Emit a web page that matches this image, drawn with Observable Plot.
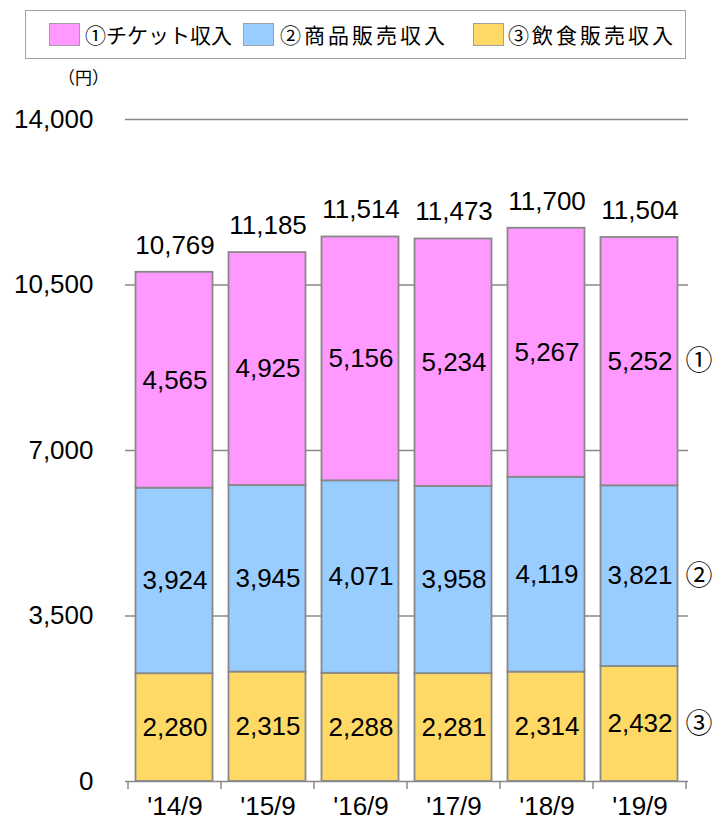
<!DOCTYPE html>
<html>
<head>
<meta charset="utf-8">
<script src="https://cdn.jsdelivr.net/npm/d3@7"></script>
<script src="https://cdn.jsdelivr.net/npm/@observablehq/plot@0.6"></script>
<style>
  body { margin: 0; background: #fff; width: 716px; height: 825px; position: relative; overflow: hidden;
         font-family: "Liberation Sans", Arial, "Noto Sans CJK JP", sans-serif; }
  #legend { position: absolute; left: 25px; top: 10px; width: 659px; height: 47px; border: 1.5px solid #a0a0a0; }
  .sw { position: absolute; top: 12px; width: 31px; height: 23px; border: 1.5px solid #a0a0a0; box-sizing: border-box; }
  .lt { position: absolute; top: 0; line-height: 47px; font-family: "Noto Sans CJK JP", sans-serif; font-size: 21px; color: #000; white-space: nowrap; }
  #unit { position: absolute; left: 58px; top: 64px; font-family: "Noto Sans CJK JP", sans-serif; font-size: 17px; line-height: 26px; color: #000; }
  #chart { position: absolute; left: 0; top: 70px; }
</style>
</head>
<body>
<div id="legend"></div>
<div id="unit">（円）</div>
<div id="chart"></div>
<script>
const categories = ["'14/9", "'15/9", "'16/9", "'17/9", "'18/9", "'19/9"];
const seriesNames = ["①チケット収入", "②商品販売収入", "③飲食販売収入"];
const seriesColors = ["#FF99FF", "#99CCFF", "#FFD966"];
const circled = ["①", "②", "③"];
const ticket = [4565, 4925, 5156, 5234, 5267, 5252];
const goods = [3924, 3945, 4071, 3958, 4119, 3821];
const food = [2280, 2315, 2288, 2281, 2314, 2432];
const totals = [10769, 11185, 11514, 11473, 11700, 11504];
const yTicks = [0, 3500, 7000, 10500, 14000];

const fmt = d3.format(",");

// Legend (swatch and label offsets inside the box)
const legendSwatchX = [23, 217, 447];
const legendTextX = [59, 254, 482];
const legendSpacing = [0, 3, 3];
const legend = document.getElementById("legend");
seriesNames.forEach((name, i) => {
  const sw = document.createElement("div");
  sw.className = "sw";
  sw.style.left = legendSwatchX[i] + "px";
  sw.style.background = seriesColors[i];
  legend.appendChild(sw);
  const t = document.createElement("span");
  t.className = "lt";
  t.style.left = legendTextX[i] + "px";
  t.style.letterSpacing = legendSpacing[i] + "px";
  t.textContent = name;
  legend.appendChild(t);
});

// rows stacked bottom to top: food, goods, ticket
const valuesBySeries = [ticket, goods, food];
const rows = [];
categories.forEach((cat, j) => {
  [2, 1, 0].forEach(s => {
    rows.push({cat, series: seriesNames[s], circ: circled[s], value: valuesBySeries[s][j]});
  });
});
const totalRows = categories.map((cat, j) => ({cat, total: totals[j]}));
const lastRows = rows.filter(r => r.cat === categories[categories.length - 1]);

const boundaryTicks = (index, scales, values, dims) => {
  const x = scales.x;
  const n = categories.length;
  const bw = x.bandwidth ? x.bandwidth() : (dims.width - dims.marginLeft - dims.marginRight) / n;
  const xs = categories.map(c => x(c));
  xs.push(x(categories[n - 1]) + bw);
  const y0 = scales.y(0);
  const g = d3.create("svg:g");
  xs.forEach(px => {
    g.append("line").attr("x1", px).attr("x2", px).attr("y1", y0).attr("y2", y0 + 8)
      .attr("stroke", "#888").attr("stroke-width", 1.5);
  });
  return g.node();
};

const chart = Plot.plot({
  width: 716,
  height: 755,
  marginTop: 49,
  marginBottom: 44,
  marginLeft: 125,
  marginRight: 28,
  style: {fontFamily: "'Liberation Sans', Arial, sans-serif", fontSize: "26px", color: "#000", background: "transparent", overflow: "visible"},
  x: {domain: categories, padding: 0, label: null},
  y: {domain: [0, 14000], label: null},
  color: {domain: seriesNames, range: seriesColors},
  marks: [
    Plot.ruleY(yTicks.filter(d => d > 0), {stroke: "#888", strokeWidth: 1.5}),
    Plot.barY(rows, Plot.stackY({x: "cat", y: "value", z: "series", fill: "series",
      stroke: "#888", strokeWidth: 1.8, insetLeft: 7.5, insetRight: 8.5})),
    Plot.text(rows, Plot.stackY({x: "cat", y: "value", z: "series", text: d => fmt(d.value),
      fontSize: 26, fill: "#000"})),
    Plot.text(totalRows, {x: "cat", y: "total", text: d => fmt(d.total), dy: -27, fontSize: 26, fill: "#000"}),
    Plot.text(lastRows, Plot.stackY({x: "cat", y: "value", z: "series", text: "circ", dx: 59,
      fontSize: 27, fill: "#000", fontFamily: "'Noto Sans CJK JP', sans-serif"})),
    Plot.ruleY([0], {stroke: "#888", strokeWidth: 1.5}),
    boundaryTicks,
    Plot.axisY({ticks: yTicks, tickSize: 0, tickPadding: 32, tickFormat: fmt, fontSize: 26, label: null}),
    Plot.axisX({tickSize: 0, tickPadding: 15, fontSize: 26, label: null})
  ]
});
document.getElementById("chart").appendChild(chart);
</script>
</body>
</html>
